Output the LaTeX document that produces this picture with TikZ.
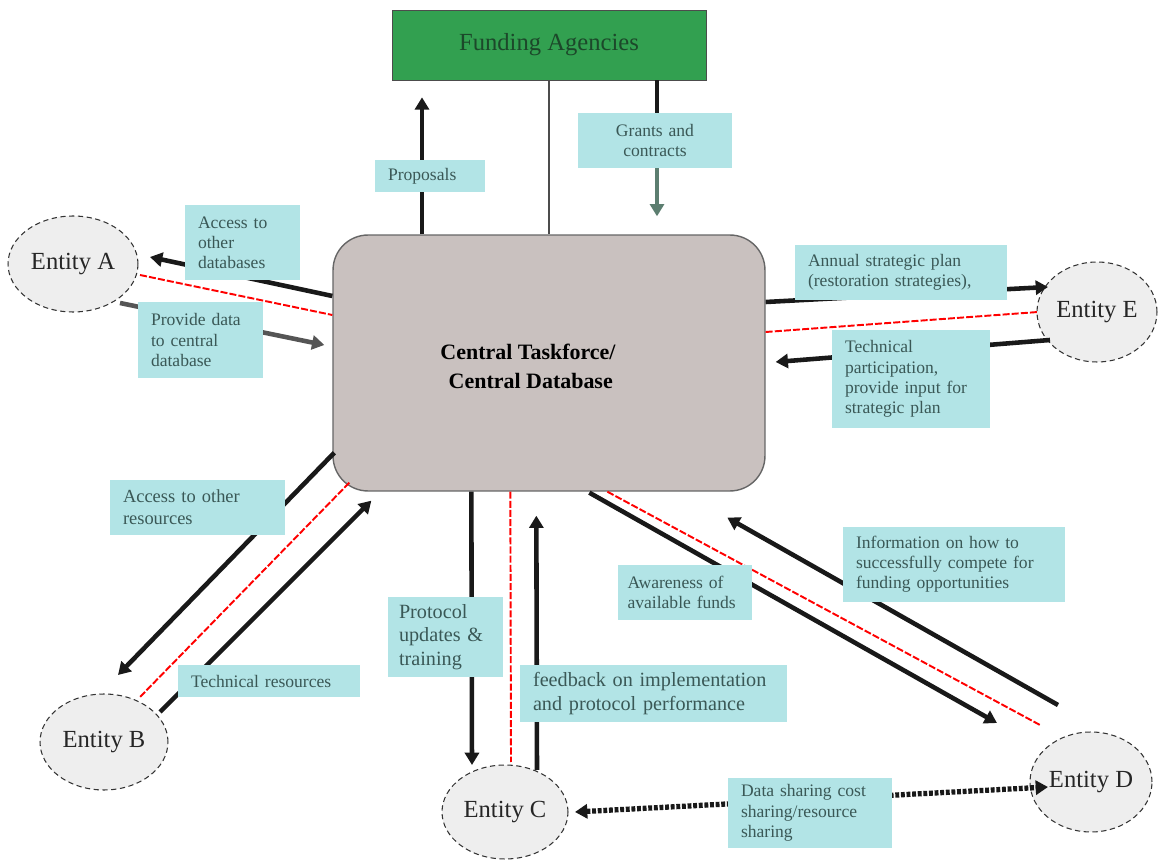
\documentclass[tikz,border=0pt]{standalone}
\usepackage{fontspec}
\setmainfont{Liberation Serif}
\usetikzlibrary{shapes.geometric,arrows.meta,calc}
\definecolor{fundgreen}{RGB}{50,160,80}
\definecolor{fundtext}{RGB}{28,72,42}
\definecolor{centgray}{RGB}{201,193,191}
\definecolor{lblcyan}{RGB}{178,228,230}
\definecolor{lbltext}{RGB}{58,88,86}
\definecolor{entfill}{RGB}{238,238,238}
\definecolor{grantarrow}{RGB}{92,126,112}
\definecolor{provgray}{RGB}{85,85,85}

\begin{document}
\begin{tikzpicture}[x=0.02cm,y=-0.02cm,
  entity/.style={ellipse, draw=black!80, densely dashed, line width=0.6pt,
    fill=entfill, inner sep=0pt, font=\fontsize{14}{16}\selectfont, text=black!85},
  flow/.style={line width=2.6pt, draw=black!90, -{Triangle[length=7pt,width=8pt]}},
  link/.style={red, line width=1.1pt, dash pattern=on 4pt off 1.2pt},
  lbl/.style={fill=lblcyan, text=lbltext, align=left, inner xsep=0.26cm,
    inner ysep=2pt, font=\fontsize{10}{11.5}\selectfont},
  share/.style={line width=3pt, draw=black!90, dash pattern=on 2.2pt off 1pt,
    {Triangle[length=7pt,width=8pt]}-{Triangle[length=7pt,width=8pt]}},
]
\useasboundingbox (0,0) rectangle (1171,861);

% main boxes
\node[draw=black!70, fill=fundgreen, minimum width=6.28cm, minimum height=1.4cm,
  text=fundtext, font=\fontsize{14}{16}\selectfont] (fund) at (549,45) {Funding Agencies};
\node[draw=black!60, line width=0.8pt, fill=centgray, rounded corners=0.7cm,
  minimum width=8.64cm, minimum height=5.12cm] (cent) at (549,363) {};
\node[font=\bfseries\fontsize{12.5}{16.5}\selectfont, align=center] (centtxt) at (528,366)
  {Central Taskforce/\\\ Central Database};

% partner entities
\node[entity, minimum width=2.6cm, minimum height=1.92cm] (A) at (73,264) {Entity A};
\node[entity, minimum width=2.56cm, minimum height=1.92cm] (B) at (104,742) {Entity B};
\node[entity, minimum width=2.52cm, minimum height=1.88cm] (C) at (505,812) {Entity C};
\node[entity, minimum width=2.44cm, minimum height=2.0cm] (D) at (1091,782) {Entity D};
\node[entity, minimum width=2.4cm, minimum height=2.0cm] (E) at (1097,312) {Entity E};

% funding links
\draw[black!70, line width=0.6pt] (fund.south) -- (cent.north);
\draw[flow] ($(cent.north)+(-127,0)$) -- ($(fund.south)+(-127,17)$);
\draw[flow, draw=grantarrow, color=grantarrow] ($(fund.south)+(108,0)$) -- ($(cent.north)+(108,-18)$);

% entity A
\draw[flow] ($(cent.west)+(0,-67)$) -- ($(A)+(77,-7)$);
\draw[link] ($(A)+(67,11)$) -- ($(cent.west)+(0,-48)$);
\draw[flow, draw=provgray] ($(A)+(47,39)$) -- ($(cent.west)+(-8,-18)$);

% entity E
\draw[flow] ($(cent.east)+(0,-61)$) -- ($(E)+(-49,-25)$);
\draw[link] ($(cent.east)+(0,-31)$) -- ($(E)+(-59,0)$);
\draw[flow] ($(E)+(-47,28)$) -- ($(cent.east)+(10,-1)$);

% entity B
\draw[flow] ($(cent.south west)+(2,-39)$) -- ($(B)+(14,-67)$);
\draw[link] ($(cent.south west)+(17,-9)$) -- ($(B)+(36,-45)$);
\draw[flow] ($(B)+(56,-30)$) -- ($(cent.south west)+(39,9)$);

% entity C
\draw[flow] ($(cent.south west)+(139,0)$) -- ($(C)+(-33,-47)$);
\draw[link] ($(cent.south west)+(178,0)$) -- ($(C)+(6,-50)$);
\draw[flow] ($(C)+(32,-42)$) -- ($(cent.south west)+(204,24)$);

% entity D
\draw[flow] ($(cent.south west)+(257,1)$) -- ($(D)+(-94,-59)$);
\draw[link] ($(cent.south west)+(275,0)$) -- ($(D)+(-51,-57)$);
\draw[flow] ($(D)+(-33,-77)$) -- ($(cent.south west)+(395,26)$);

% C <-> D sharing
\draw[share] ($(C)+(70,0)$) -- ($(D)+(-43,5)$);

% labels
\node[lbl, text width=1.68cm, minimum height=0.64cm] (lprop) at (430,176) {Proposals};
\node[lbl, align=center, text width=2.56cm, minimum height=1.1cm] (lgrant) at (655,140.5) {Grants and\\contracts};
\draw[line width=2.6pt, black!90] ($(fund.south)+(108,0)$) -- (lgrant.north -| {$(fund.south)+(108,0)$});
\node[lbl, text width=1.78cm, minimum height=1.5cm] (ldb) at (242.5,242.5) {Access to\\other\\databases};
\node[lbl, text width=1.98cm, minimum height=1.52cm] (lprov) at (200.5,340) {Provide data\\to central\\database};
\node[lbl, text width=3.72cm, minimum height=1.1cm] (lann) at (901,272.5) {Annual strategic plan\\(restoration strategies),};
\node[lbl, text width=2.64cm, minimum height=1.96cm] (ltech) at (911,379) {Technical\\participation,\\provide input for\\strategic plan};
\node[lbl, font=\fontsize{10.5}{12.5}\selectfont, text width=2.98cm, minimum height=1.1cm] (lres) at (197.5,507.5) {Access to other\\resources};
\node[lbl, text width=3.12cm, minimum height=0.64cm] (ltres) at (269,681) {Technical resources};
\node[lbl, font=\fontsize{11.5}{13.5}\selectfont, inner xsep=0.22cm, text width=1.86cm, minimum height=1.6cm] (lproto) at (445.5,637) {Protocol\\updates \&\\training};
\node[lbl, font=\fontsize{11.5}{13.5}\selectfont, text width=4.82cm, minimum height=1.14cm] (lfeed) at (653.5,693.5) {feedback on implementation\\and protocol performance};
\node[lbl, inner xsep=0.2cm, text width=2.3cm, minimum height=1.1cm] (laware) at (685,592.5) {Awareness of\\available funds};
\node[lbl, text width=3.92cm, minimum height=1.5cm] (linfo) at (954,564.5) {Information on how to\\successfully compete for\\funding opportunities};
\node[lbl, text width=2.76cm, minimum height=1.4cm] (lshare) at (810,813) {Data sharing cost\\sharing/resource\\sharing};
\end{tikzpicture}
\end{document}
